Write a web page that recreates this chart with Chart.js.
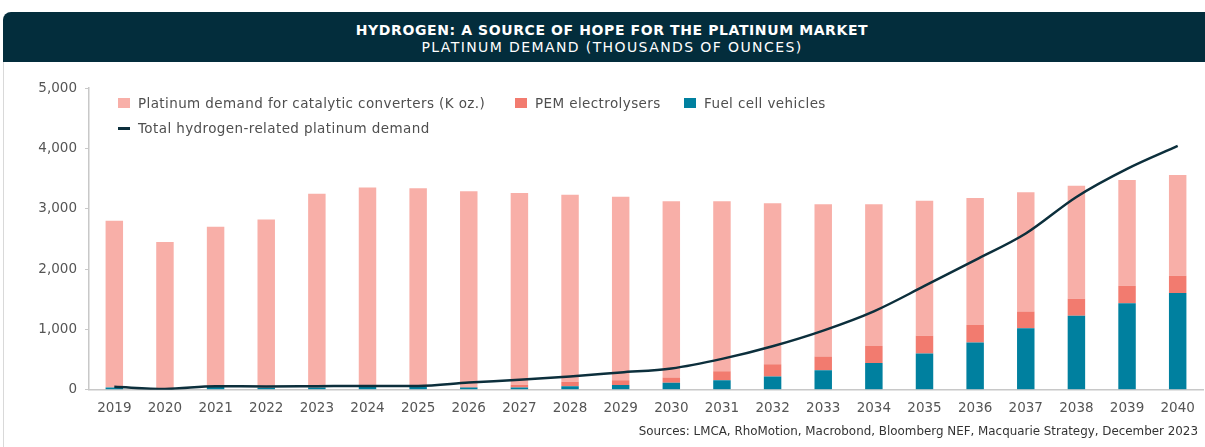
<!DOCTYPE html>
<html>
<head>
<meta charset="utf-8">
<script src="https://cdn.jsdelivr.net/npm/chart.js@4.4.1/dist/chart.umd.min.js"></script>
<style>
  html, body { margin:0; padding:0; background:#fff; }
  body { width:1205px; height:447px; position:relative; overflow:hidden; font-family:"DejaVu Sans", sans-serif; }
  #header { position:absolute; left:3px; right:0; top:12px; height:50px; background:#032d3c; border-top-left-radius:8px; color:#fff; text-align:center; }
  #t1 { position:absolute; left:16px; right:0; top:9px; font-size:14px; font-weight:bold; letter-spacing:0.6px; line-height:18px; }
  #t2 { position:absolute; left:16px; right:0; top:26px; font-size:14px; letter-spacing:1.4px; line-height:18px; }
  #frame { position:absolute; left:3px; top:62px; bottom:0; border-left:1px solid #d9d9d9; }
  #wrap { position:absolute; left:0; top:0; width:1205px; height:447px; }
  .lg { position:absolute; font-size:13.5px; letter-spacing:0.4px; color:#4f4f4f; line-height:16px; white-space:nowrap; }
  .sw { position:absolute; width:12px; height:10px; }
  #src { position:absolute; right:7px; top:424px; font-size:11.9px; color:#333; white-space:nowrap; }
</style>
</head>
<body>
<div id="wrap"><canvas id="c" width="1205" height="447"></canvas></div>
<div id="header">
  <div id="t1">HYDROGEN: A SOURCE OF HOPE FOR THE PLATINUM MARKET</div>
  <div id="t2">PLATINUM DEMAND (THOUSANDS OF OUNCES)</div>
</div>
<div id="frame"></div>
<div id="legend"></div>
<div id="src">Sources: LMCA, RhoMotion, Macrobond, Bloomberg NEF, Macquarie Strategy, December 2023</div>
<script>
const years = ["2019","2020","2021","2022","2023","2024","2025","2026","2027","2028","2029","2030","2031","2032","2033","2034","2035","2036","2037","2038","2039","2040"];
const fuelCellVehicles = [40,15,45,35,40,45,45,40,40,60,78,116,160,221,325,446,600,782,1018,1228,1432,1603];
const pemElectrolysers = [0,0,0,0,0,0,0,5,43,72,82,88,149,204,226,281,297,292,281,281,292,286];
const catalyticConverters = [2760,2435,2655,2785,3210,3305,3295,3245,3177,3101,3040,2920,2815,2666,2523,2348,2237,2104,1974,1873,1752,1670];
const totalHydrogen = [50,15,60,55,60,65,65,120,165,221,287,353,512,722,981,1300,1720,2150,2590,3195,3660,4040];
const yTicks = [0,1000,2000,3000,4000,5000];

const C_CAT = "#f8afa8", C_PEM = "#f27b6f", C_FCV = "#00809f", C_LINE = "#0c2f3c";

// HTML legend
const legendItems = [
  {label:"Platinum demand for catalytic converters (K oz.)", color:C_CAT, x:118, y:98, type:"box"},
  {label:"PEM electrolysers", color:C_PEM, x:515, y:98, type:"box"},
  {label:"Fuel cell vehicles", color:C_FCV, x:684, y:98, type:"box"},
  {label:"Total hydrogen-related platinum demand", color:C_LINE, x:118, y:123, type:"line"}
];
const lg = document.getElementById("legend");
legendItems.forEach(it => {
  const sw = document.createElement("div");
  sw.className = "sw";
  sw.style.left = it.x + "px";
  sw.style.background = it.color;
  if (it.type === "line") { sw.style.top = (it.y + 4) + "px"; sw.style.height = "3px"; }
  else { sw.style.top = it.y + "px"; }
  lg.appendChild(sw);
  const t = document.createElement("div");
  t.className = "lg";
  t.style.left = (it.x + 20) + "px";
  t.style.top = (it.y - 3) + "px";
  t.textContent = it.label;
  lg.appendChild(t);
});

const fontFam = "'DejaVu Sans', sans-serif";
new Chart(document.getElementById("c"), {
  data: {
    labels: years,
    datasets: [
      { type:"line", label:"Total hydrogen-related platinum demand", data:totalHydrogen, borderColor:C_LINE, borderWidth:2.5, pointRadius:0, cubicInterpolationMode:"monotone", stack:"line", order:0, fill:false },
      { type:"bar", label:"Fuel cell vehicles", data:fuelCellVehicles, backgroundColor:C_FCV, stack:"bars", order:1, barPercentage:0.345, categoryPercentage:1 },
      { type:"bar", label:"PEM electrolysers", data:pemElectrolysers, backgroundColor:C_PEM, stack:"bars", order:1, barPercentage:0.345, categoryPercentage:1 },
      { type:"bar", label:"Platinum demand for catalytic converters (K oz.)", data:catalyticConverters, backgroundColor:C_CAT, stack:"bars", order:1, barPercentage:0.345, categoryPercentage:1 }
    ]
  },
  options: {
    responsive:false,
    animation:false,
    devicePixelRatio:1,
    layout:{ padding:{ left:0, right:2, top:88, bottom:27 } },
    plugins:{ legend:{display:false}, tooltip:{enabled:false}, title:{display:false} },
    scales:{
      x:{
        stacked:true,
        grid:{ display:false },
        border:{ display:true, color:"#c8c8c8", width:1.5 },
        ticks:{ color:"#555", font:{ family:fontFam, size:13.5 }, padding:3, maxRotation:0, autoSkip:false }
      },
      y:{
        stacked:true,
        min:0, max:5000,
        afterBuildTicks: s => { s.ticks = yTicks.map(v => ({value:v})); },
        afterFit: s => { s.width = 89; },
        grid:{ drawOnChartArea:false, drawTicks:true, tickLength:4, color:"#c8c8c8" },
        border:{ display:true, color:"#c8c8c8", width:1.5 },
        ticks:{ color:"#555", font:{ family:fontFam, size:13.5 }, padding:8, callback: v => v.toLocaleString("en-US") }
      }
    }
  }
});
</script>
</body>
</html>
